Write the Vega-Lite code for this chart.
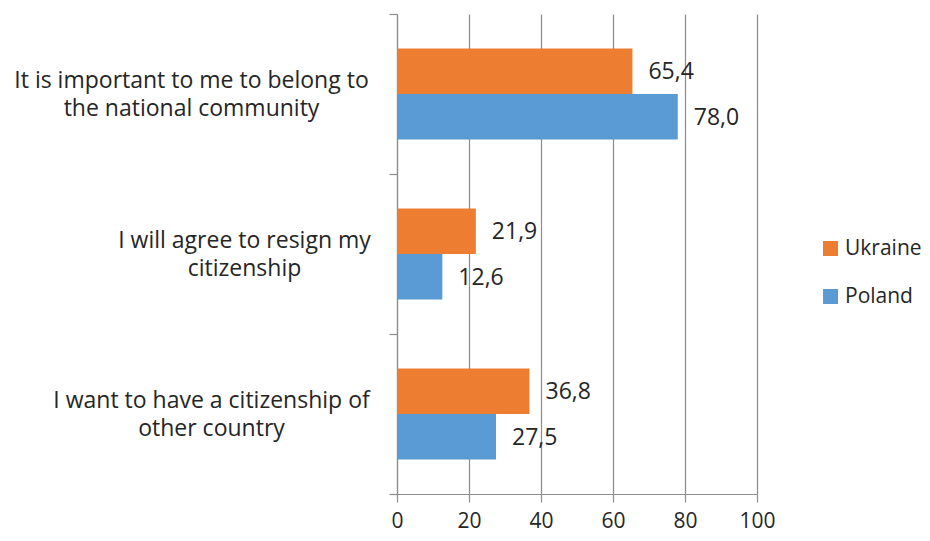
{
  "$schema": "https://vega.github.io/schema/vega-lite/v6.json",
  "width": 360,
  "height": 480,
  "autosize": {"type": "none"},
  "padding": {"left": 397, "top": 14, "right": 173, "bottom": 47},
  "background": "white",
  "config": {
    "locale": {"number": {"decimal": ",", "thousands": ".", "grouping": [3], "currency": ["", ""]}},
    "view": {"stroke": null},
    "font": "Open Sans",
    "text": {"color": "#262626"}
  },
  "data": {
    "values": [
      {"statement": "It is important to me to belong to the national community", "country": "Ukraine", "value": 65.4},
      {"statement": "It is important to me to belong to the national community", "country": "Poland", "value": 78.0},
      {"statement": "I will agree to resign my citizenship", "country": "Ukraine", "value": 21.9},
      {"statement": "I will agree to resign my citizenship", "country": "Poland", "value": 12.6},
      {"statement": "I want to have a citizenship of other country", "country": "Ukraine", "value": 36.8},
      {"statement": "I want to have a citizenship of other country", "country": "Poland", "value": 27.5}
    ]
  },
  "encoding": {
    "y": {
      "field": "statement",
      "type": "nominal",
      "sort": [
        "It is important to me to belong to the national community",
        "I will agree to resign my citizenship",
        "I want to have a citizenship of other country"
      ],
      "scale": {"paddingInner": 0, "paddingOuter": 0},
      "axis": {
        "title": null,
        "domainColor": "#8c8c8c",
        "domainWidth": 1.2,
        "tickColor": "#8c8c8c",
        "tickWidth": 1.2,
        "tickSize": 8,
        "tickBand": "extent",
        "labelAlign": "center",
        "labelBaseline": "middle",
        "labelFontSize": 23,
        "labelLineHeight": 28,
        "labelOffset": -14,
        "labelColor": "#262626",
        "labelLimit": 0,
        "labelPadding": {
          "condition": [
            {"test": "datum.value === 'It is important to me to belong to the national community'", "value": 198},
            {"test": "datum.value === 'I will agree to resign my citizenship'", "value": 145}
          ],
          "value": 178
        },
        "labelExpr": "datum.value === 'It is important to me to belong to the national community' ? ['It is important to me to belong to', 'the national community'] : datum.value === 'I will agree to resign my citizenship' ? ['I will agree to resign my', 'citizenship'] : datum.value === 'I want to have a citizenship of other country' ? ['I want to have a citizenship of', 'other country'] : ''"
      }
    },
    "yOffset": {
      "field": "country",
      "type": "nominal",
      "sort": ["Ukraine", "Poland"],
      "scale": {"paddingInner": 0, "paddingOuter": 0.758}
    },
    "x": {
      "field": "value",
      "type": "quantitative",
      "scale": {"domain": [0, 100], "nice": false},
      "axis": {
        "title": null,
        "values": [0, 20, 40, 60, 80, 100],
        "grid": true,
        "gridColor": "#8c8c8c",
        "gridWidth": 1.2,
        "domainColor": "#8c8c8c",
        "domainWidth": 1.2,
        "tickColor": "#8c8c8c",
        "tickWidth": 1.2,
        "tickSize": 8,
        "labelFontSize": 21,
        "labelColor": "#262626",
        "labelPadding": 8,
        "labelFlush": false
      }
    }
  },
  "layer": [
    {
      "mark": {"type": "bar"},
      "encoding": {
        "color": {
          "field": "country",
          "type": "nominal",
          "scale": {"domain": ["Ukraine", "Poland"], "range": ["#ED7D31", "#5B9BD5"]},
          "legend": {
            "title": null,
            "orient": "none",
            "legendX": 423,
            "legendY": 224,
            "symbolType": "square",
            "symbolSize": 225,
            "symbolStrokeWidth": 0,
            "labelFontSize": 21,
            "labelColor": "#262626",
            "labelOffset": 4,
            "rowPadding": 26,
            "padding": 0
          }
        }
      }
    },
    {
      "mark": {"type": "text", "align": "left", "baseline": "middle", "dx": 16, "dy": 1, "fontSize": 23},
      "encoding": {
        "text": {"field": "value", "type": "quantitative", "format": ".1f"}
      }
    }
  ]
}
